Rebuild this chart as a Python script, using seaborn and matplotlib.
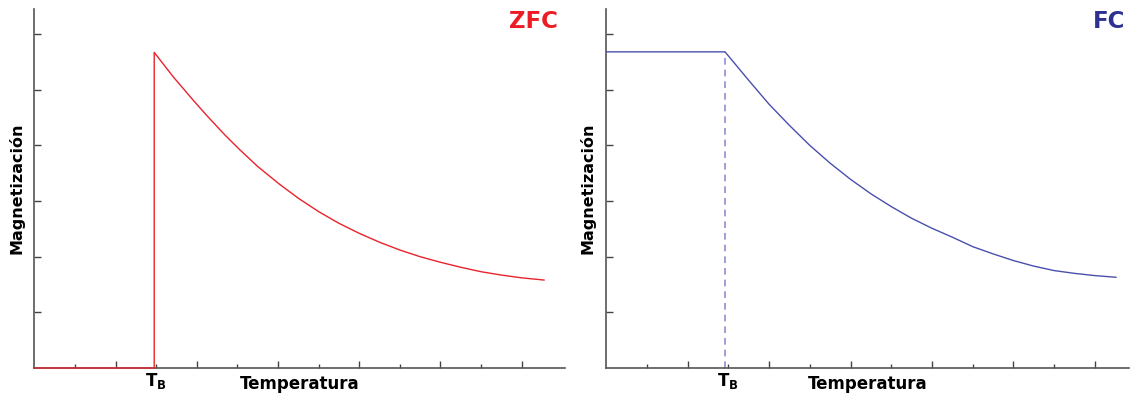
import matplotlib
matplotlib.use('Agg')
import matplotlib.pyplot as plt
import seaborn as sns

# Datos (unidades arbitrarias)
t_b = 2.95
zfc_t = [0.0, t_b, t_b, 3.42, 3.9, 4.24, 4.7, 5.06, 5.5, 6.04, 6.5, 7.0, 7.5, 8.0, 8.5,
         9.0, 9.5, 10.0, 10.5, 11.0, 11.5, 12.0, 12.56]
zfc_m = [0.0, 0.0, 5.67, 5.23, 4.82, 4.54, 4.18, 3.92, 3.62, 3.30, 3.05, 2.81, 2.60, 2.42, 2.26,
         2.12, 2.00, 1.90, 1.81, 1.73, 1.67, 1.62, 1.58]

fc_t = [0.0, 2.92, 3.0, 3.5, 4.0, 4.5, 5.0, 5.5, 6.0, 6.5, 7.0, 7.5, 8.0, 8.5,
        9.0, 9.5, 10.0, 10.5, 11.0, 11.5, 12.0, 12.52]
fc_m = [5.68, 5.68, 5.61, 5.17, 4.74, 4.36, 4.00, 3.68, 3.39, 3.13, 2.90, 2.69, 2.51, 2.35,
        2.18, 2.05, 1.93, 1.83, 1.75, 1.70, 1.66, 1.63]

y_ticks = [1, 2, 3, 4, 5, 6]
x_major = [2, 4, 6, 8, 10, 12]
x_minor = [1, 3, 5, 7, 9, 11]

sns.set_style('ticks')
plt.rcParams['font.family'] = ['DejaVu Sans']

fig = plt.figure(figsize=(11.3, 3.96), dpi=100)
ax1 = fig.add_axes([0.0305, 0.0707, 0.4695, 0.9066])
ax2 = fig.add_axes([0.5363, 0.0707, 0.4630, 0.9066])

sns.lineplot(x=zfc_t, y=zfc_m, sort=False, estimator=None, color='#e8232b',
             linewidth=1.0, ax=ax1, zorder=3, clip_on=False)
sns.lineplot(x=fc_t, y=fc_m, sort=False, estimator=None, color='#4a4fae',
             linewidth=1.0, ax=ax2, zorder=3)
# linea discontinua en T_B
ax2.plot([fc_t[1], fc_t[1]], [0, fc_m[1]], color='#8c8fd0', linestyle=(0, (4, 3)), linewidth=1.2)

for ax, label, col, xmax, xr in [(ax1, 'ZFC', '#ed1c24', 13.07, 0.986), (ax2, 'FC', '#2e3192', 12.84, 0.993)]:
    ax.set_xlim(0, xmax)
    ax.set_ylim(0, 6.45)
    for s in ['top', 'right']:
        ax.spines[s].set_visible(False)
    for s in ['left', 'bottom']:
        ax.spines[s].set_color('#555555')
        ax.spines[s].set_linewidth(1.2)
    ax.set_yticks(y_ticks)
    ax.set_yticklabels([])
    ax.set_xticks(x_major)
    ax.set_xticklabels([])
    ax.set_xticks(x_minor, minor=True)
    ax.set_xticklabels(['', r'$\mathbf{T_B}$', '', '', '', ''], minor=True, fontsize=12, color='black')
    ax.tick_params(axis='y', direction='in', length=5, width=1, color='#444444')
    ax.tick_params(axis='x', which='major', direction='in', length=5, width=1, color='#444444')
    ax.tick_params(axis='x', which='minor', direction='in', length=3, width=1, color='#444444', pad=2)
    ax.set_xlabel('Temperatura', fontsize=12, fontweight='bold', color='black')
    ax.xaxis.set_label_coords(0.5, -0.02)
    ax.set_ylabel('Magnetización', fontsize=11.5, fontweight='bold', labelpad=4, color='black')
    ax.text(xr, 0.998, label, transform=ax.transAxes, ha='right', va='top',
            color=col, fontsize=16.5, fontweight='bold')

fig.savefig('out.png', dpi=100)
